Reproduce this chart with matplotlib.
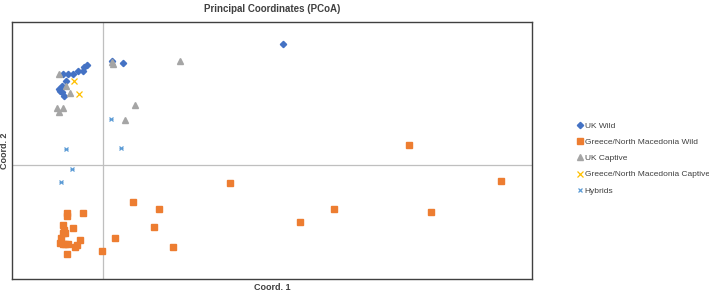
import matplotlib
matplotlib.use("Agg")
import matplotlib.pyplot as plt

plt.rcParams['font.family'] = ['Liberation Sans', 'DejaVu Sans']

# PCoA scores (arbitrary units)
uk_wild_x = [-0.16, -0.19, -0.20, -0.25, -0.30, -0.35, -0.40, -0.37, -0.41, -0.44, -0.43, -0.41, -0.39, 0.20, 0.09, 1.80]
uk_wild_y = [1.00, 0.98, 0.94, 0.94, 0.91, 0.91, 0.91, 0.84, 0.79, 0.76, 0.74, 0.73, 0.69, 1.02, 1.04, 1.21]

gr_wild_x = [0.30, 0.56, 0.51, 0.12, -0.01, 0.70, -0.20, -0.36, -0.36, -0.30, -0.40, -0.39, -0.40, -0.38,
             -0.42, -0.43, -0.40, -0.38, -0.35, -0.23, -0.26, -0.28, -0.36, 1.27, 1.97, 2.31, 3.28, 3.06, 3.98]
gr_wild_y = [-0.37, -0.44, -0.62, -0.73, -0.86, -0.82, -0.48, -0.48, -0.51, -0.63, -0.60, -0.65, -0.68, -0.68,
             -0.73, -0.78, -0.79, -0.79, -0.79, -0.75, -0.80, -0.82, -0.89, -0.18, -0.57, -0.44, -0.47, 0.20, -0.16]

uk_capt_x = [-0.44, -0.37, -0.33, -0.46, -0.44, -0.40, 0.09, 0.10, 0.77, 0.32, 0.22]
uk_capt_y = [0.91, 0.79, 0.72, 0.57, 0.53, 0.57, 1.03, 1.01, 1.04, 0.60, 0.45]

gr_capt_x = [-0.29, -0.24]
gr_capt_y = [0.84, 0.71]

hyb_x = [0.08, -0.37, 0.18, -0.31, -0.42]
hyb_y = [0.46, 0.16, 0.17, -0.04, -0.17]

fig = plt.figure(figsize=(7.09, 2.91), dpi=100)
ax = fig.add_axes([12 / 709, 12 / 291, 520 / 709, 257 / 291])

ax.axvline(0, color="#bfbfbf", lw=0.9, zorder=1)
ax.axhline(0, color="#bfbfbf", lw=0.9, zorder=1)

ax.plot(uk_wild_x, uk_wild_y, "D", color="#4472C4", ms=3.2, ls="none", label="UK Wild", zorder=3)
ax.plot(gr_wild_x, gr_wild_y, "s", color="#ED7D31", ms=4, ls="none", label="Greece/North Macedonia Wild", zorder=3)
ax.plot(uk_capt_x, uk_capt_y, "^", color="#A5A5A5", ms=4.2, ls="none", label="UK Captive", zorder=3)
ax.plot(gr_capt_x, gr_capt_y, "x", color="#FFC000", ms=4, mew=0.9, ls="none",
        label="Greece/North Macedonia Captive", zorder=3)
ax.plot(hyb_x, hyb_y, "x", color="#5B9BD5", ms=3.5, mew=0.9, ls="none", label="Hybrids", zorder=3)
ax.plot(hyb_x, hyb_y, "_", color="#5B9BD5", ms=3.5, mew=0.8, ls="none", zorder=3)

ax.set_xlim(-0.91, 4.29)
ax.set_ylim(-1.14, 1.43)
ax.set_xticks([])
ax.set_yticks([])
for s in ax.spines.values():
    s.set_color("#404040")
    s.set_linewidth(1.0)

ax.set_title("Principal Coordinates (PCoA)", fontsize=7, fontweight="bold", color="#404040", pad=7)
ax.set_xlabel("Coord. 1", fontsize=6.5, fontweight="bold", color="#404040", labelpad=3)
ax.set_ylabel("Coord. 2", fontsize=6.5, fontweight="bold", color="#404040", labelpad=2)

leg = fig.legend(loc="upper left", bbox_to_anchor=(573 / 709, 1 - 118 / 291), frameon=False,
                 fontsize=6, handlelength=0.6, handletextpad=0.3, labelspacing=1.0, borderpad=0)
for t in leg.get_texts():
    t.set_color("#404040")

fig.savefig("out.png", dpi=100)
